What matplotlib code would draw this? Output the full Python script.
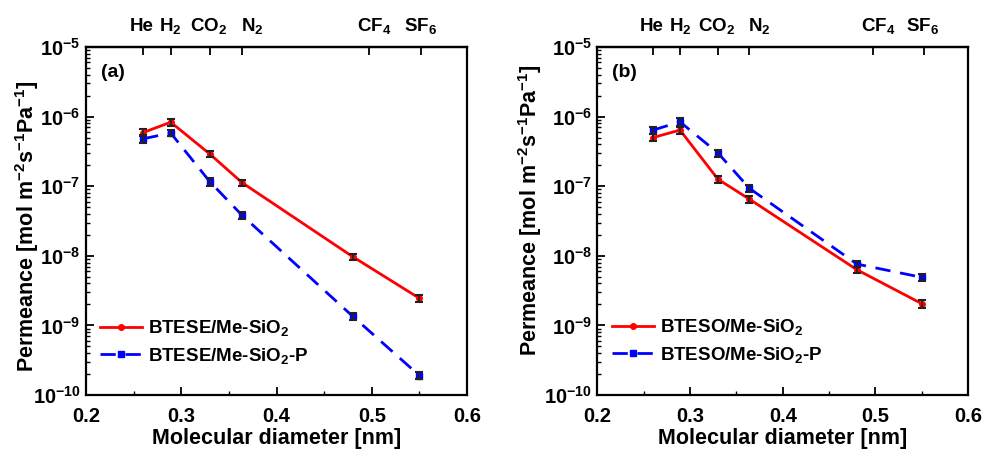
import numpy as np
import matplotlib
matplotlib.use("Agg")
import matplotlib.pyplot as plt
import matplotlib.transforms as mtransforms
from matplotlib.ticker import LogLocator, NullFormatter, MultipleLocator

plt.rcParams.update({
    "font.family": ["Liberation Sans", "DejaVu Sans"],
    "font.weight": "bold",
    "axes.labelweight": "bold",
    "mathtext.fontset": "custom",
    "mathtext.rm": "Liberation Sans:bold",
    "mathtext.bf": "Liberation Sans:bold",
    "mathtext.it": "Liberation Sans:bold:italic",
    "mathtext.default": "rm",
})

# Kinetic diameters of the probe gases [nm]
diameter = [0.26, 0.289, 0.33, 0.364, 0.48, 0.55]
gas_labels = ["He", "H$_2$", "CO$_2$", "N$_2$", "CF$_4$", "SF$_6$"]
gas_tick_pos = [0.26, 0.289, 0.33, 0.364, 0.497, 0.552]
gas_label_pos = [0.258, 0.289, 0.329, 0.375, 0.503, 0.551]

# Permeance [mol m-2 s-1 Pa-1]
btese = [5.9e-7, 8.3e-7, 2.9e-7, 1.12e-7, 9.7e-9, 2.45e-9]
btese_err = [0.7e-7, 0.9e-7, 0.3e-7, 0.12e-7, 1.0e-9, 0.28e-9]
btese_p = [4.8e-7, 5.8e-7, 1.16e-7, 3.8e-8, 1.35e-9, 1.9e-10]
btese_p_err = [0.6e-7, 0.6e-7, 0.14e-7, 0.45e-8, 0.17e-9, 0.22e-10]

bteso = [5.0e-7, 6.4e-7, 1.26e-7, 6.5e-8, 6.3e-9, 2.05e-9]
bteso_err = [0.6e-7, 0.7e-7, 0.14e-7, 0.75e-8, 0.7e-9, 0.25e-9]
bteso_p = [6.4e-7, 8.4e-7, 3.0e-7, 9.3e-8, 7.6e-9, 4.9e-9]
bteso_p_err = [0.8e-7, 1.0e-7, 0.35e-7, 1.1e-8, 0.8e-9, 0.55e-9]

panels = [
    dict(rect=[0.0864, 0.130, 0.383, 0.7665], tag="(a)",
         s1=(btese, btese_err, "BTESE/Me-SiO$_2$"),
         s2=(btese_p, btese_p_err, "BTESE/Me-SiO$_2$-P"),
         ylab_xy=(-0.118, 0.486), leg_xy=(0.037, 0.152)),
    dict(rect=[0.6005, 0.130, 0.3725, 0.7665], tag="(b)",
         s1=(bteso, bteso_err, "BTESO/Me-SiO$_2$"),
         s2=(bteso_p, bteso_p_err, "BTESO/Me-SiO$_2$-P"),
         ylab_xy=(-0.143, 0.53), leg_xy=(0.038, 0.155)),
]

fig = plt.figure(figsize=(9.95, 4.54), dpi=100)

for p in panels:
    ax = fig.add_axes(p["rect"])
    v1, e1, l1 = p["s1"]
    v2, e2, l2 = p["s2"]
    h1, = ax.plot(diameter, v1, color="red", lw=2.0, marker="o", ms=4,
                  label=l1, zorder=3)
    h2, = ax.plot(diameter, v2, color="blue", lw=2.0, ls=(0, (5.5, 3.5)),
                  marker="s", ms=4, label=l2, zorder=3)
    ax.errorbar(diameter, v1, yerr=e1, fmt="none", ecolor="#222222",
                elinewidth=1.2, capsize=2.8, capthick=1.5, zorder=4)
    ax.errorbar(diameter, v2, yerr=e2, fmt="none", ecolor="#222222",
                elinewidth=1.2, capsize=2.8, capthick=1.5, zorder=4)

    ax.set_yscale("log")
    ax.set_ylim(1e-10, 1e-5)
    ax.set_xlim(0.2, 0.6)
    ax.xaxis.set_major_locator(MultipleLocator(0.1))
    ax.xaxis.set_minor_locator(MultipleLocator(0.05))
    ax.yaxis.set_major_locator(LogLocator(base=10, numticks=10))
    ax.yaxis.set_minor_locator(LogLocator(base=10, subs=np.arange(2, 10), numticks=100))
    ax.yaxis.set_minor_formatter(NullFormatter())
    ax.xaxis.set_major_formatter(plt.FuncFormatter(lambda v, _: f"{v:.1f}"))

    for s in ax.spines.values():
        s.set_linewidth(1.6)
    ax.tick_params(axis="both", which="major", direction="in", length=6,
                   width=1.3, labelsize=14.5, top=False, right=False)
    ax.tick_params(axis="both", which="minor", direction="in", length=3,
                   width=1.0, top=False, right=False)
    ax.tick_params(axis="x", pad=8.5)
    ax.tick_params(axis="y", pad=4)

    ax.set_xlabel("Molecular diameter [nm]", fontsize=15.5, va="baseline")
    ax.xaxis.set_label_coords(0.5, -0.141)
    ax.set_ylabel("Permeance [mol m$^{-2}$s$^{-1}$Pa$^{-1}$]", fontsize=15.5)
    ax.yaxis.set_label_coords(*p["ylab_xy"])

    # gas markers along the top edge
    top = ax.secondary_xaxis("top")
    top.set_xticks(gas_tick_pos)
    top.set_xticklabels([])
    top.tick_params(direction="in", length=6, width=1.3)
    top.spines["top"].set_linewidth(1.6)
    trans = mtransforms.blended_transform_factory(ax.transData, ax.transAxes)
    for xg, lab in zip(gas_label_pos, gas_labels):
        ax.text(xg, 1.046, lab, transform=trans, fontsize=13.5,
                ha="center", va="baseline")

    ax.text(0.04, 0.95, p["tag"], transform=ax.transAxes, fontsize=14,
            ha="left", va="top")

    ax.legend(handles=[h1, h2], loc="center left", bbox_to_anchor=p["leg_xy"],
              borderaxespad=0, borderpad=0, frameon=False, fontsize=13.5,
              handlelength=2.25, handletextpad=0.32, labelspacing=0.4,
              numpoints=1)

fig.savefig("out.png", dpi=100)
